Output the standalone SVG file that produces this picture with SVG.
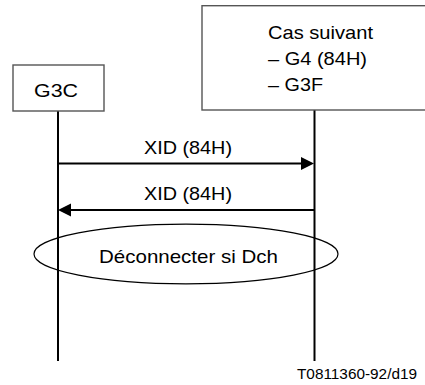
<svg xmlns="http://www.w3.org/2000/svg" width="425" height="385" viewBox="0 0 425 385">
<style>
.box{fill:#fff;stroke:#555;stroke-width:1.4}
.life{stroke:#000;stroke-width:2;fill:none}
.msg{stroke:#000;stroke-width:2;fill:none}
.head{fill:#000;stroke:none}
.t{font-family:"Liberation Sans",Arial,sans-serif;font-size:19px;fill:#000}
.small{font-family:"Liberation Sans",Arial,sans-serif;font-size:14px;fill:#000}
</style>
<rect width="425" height="385" fill="#fff"/>
<g id="connectors">
<line class="life" x1="58" y1="111" x2="58" y2="361"/>
<line class="life" x1="314.5" y1="110" x2="314.5" y2="361"/>
<line class="msg" x1="58" y1="163.5" x2="303" y2="163.5"/>
<polygon class="head" points="314,163.5 301,157 301,170"/>
<text class="t" x="144" y="153.5" textLength="88" lengthAdjust="spacingAndGlyphs">XID (84H)</text>
<line class="msg" x1="314.5" y1="210" x2="69" y2="210"/>
<polygon class="head" points="58,210 71,203.5 71,216.5"/>
<text class="t" x="144" y="200" textLength="88" lengthAdjust="spacingAndGlyphs">XID (84H)</text>
</g>
<g id="node-g3c">
<rect class="box" x="13" y="65" width="91" height="46"/>
<text class="t" x="34" y="96.7" textLength="44" lengthAdjust="spacingAndGlyphs">G3C</text>
</g>
<g id="node-cas">
<rect class="box" x="202" y="5.7" width="230" height="104.3"/>
<text class="t" x="268" y="38.5" textLength="105" lengthAdjust="spacingAndGlyphs">Cas suivant</text>
<text class="t" x="268" y="65" textLength="99" lengthAdjust="spacingAndGlyphs">– G4 (84H)</text>
<text class="t" x="268" y="91" textLength="55" lengthAdjust="spacingAndGlyphs">– G3F</text>
</g>
<g id="node-deconnecter">
<ellipse cx="186" cy="254" rx="152" ry="29.8" fill="none" stroke="#000" stroke-width="1.2"/>
<text class="t" x="99" y="263.3" textLength="179" lengthAdjust="spacingAndGlyphs">Déconnecter si Dch</text>
</g>
<text class="small" x="297" y="379.3" textLength="120" lengthAdjust="spacingAndGlyphs">T0811360-92/d19</text>
</svg>
